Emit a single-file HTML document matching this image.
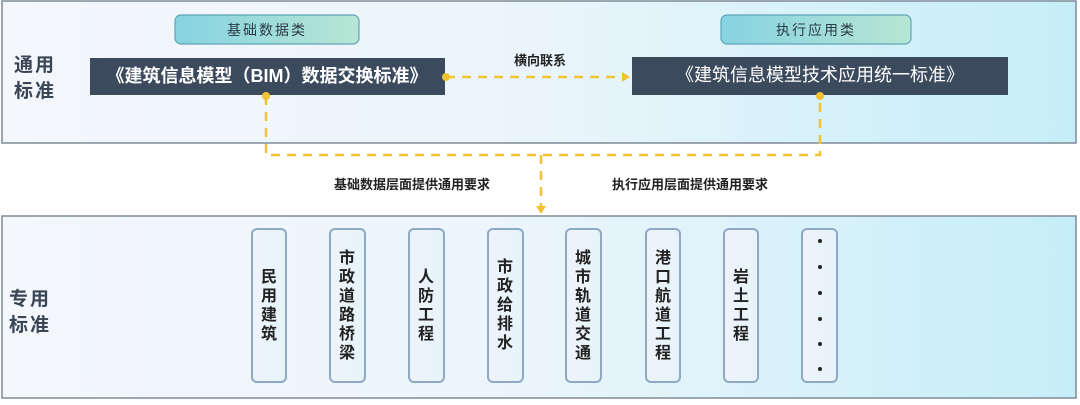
<!DOCTYPE html>
<html><head><meta charset="utf-8"><style>
html,body{margin:0;padding:0;background:#fff;}
body{width:1080px;height:400px;overflow:hidden;}
text{font-family:"Liberation Sans","Noto Sans CJK SC",sans-serif;}
</style></head><body>
<svg width="1080" height="400" viewBox="0 0 1080 400" xmlns="http://www.w3.org/2000/svg">
<defs>
<linearGradient id="pg" x1="0" y1="0" x2="1" y2="0">
<stop offset="0" stop-color="#f4f7fc"/><stop offset="0.5" stop-color="#eaf5fb"/><stop offset="1" stop-color="#c6eef8"/>
</linearGradient>
<linearGradient id="tg" x1="0" y1="0" x2="1" y2="0">
<stop offset="0" stop-color="#86d3e2"/><stop offset="1" stop-color="#b7e6d3"/>
</linearGradient>
<linearGradient id="bg" x1="0" y1="0" x2="1" y2="0">
<stop offset="0" stop-color="#eef3fa"/><stop offset="1" stop-color="#e6f3fa"/>
</linearGradient>
</defs>
<rect x="2" y="1" width="1074" height="142" fill="url(#pg)" stroke="#7d8b99" stroke-width="1.5"/>
<rect x="2" y="216" width="1074" height="182" fill="url(#pg)" stroke="#7d8b99" stroke-width="1.5"/>
<text x="14" y="71" font-size="19" font-weight="bold" fill="#3a4656" letter-spacing="2">通用</text>
<text x="14" y="97" font-size="19" font-weight="bold" fill="#3a4656" letter-spacing="2">标准</text>
<text x="9" y="305" font-size="19" font-weight="bold" fill="#3a4656" letter-spacing="2">专用</text>
<text x="9" y="331" font-size="19" font-weight="bold" fill="#3a4656" letter-spacing="2">标准</text>
<rect x="175" y="15" width="184" height="29" rx="6" fill="url(#tg)" stroke="#5fa3b8" stroke-width="1.2"/>
<text x="267" y="35" font-size="14" fill="#2e3a48" text-anchor="middle" letter-spacing="2">基础数据类</text>
<rect x="721" y="15" width="190" height="29" rx="6" fill="url(#tg)" stroke="#5fa3b8" stroke-width="1.2"/>
<text x="816" y="35" font-size="14" fill="#2e3a48" text-anchor="middle" letter-spacing="2">执行应用类</text>
<rect x="90" y="58" width="355" height="37" fill="#3c4a5e"/>
<text x="267" y="82" font-size="18" font-weight="bold" fill="#fff" text-anchor="middle">《建筑信息模型（BIM）数据交换标准》</text>
<rect x="632" y="57" width="376" height="38" fill="#3c4a5e"/>
<text x="820" y="81" font-size="18" fill="#fff" text-anchor="middle">《建筑信息模型技术应用统一标准》</text>
<g stroke="#f1c232" stroke-width="2.5" fill="none" stroke-dasharray="9,7">
<line x1="446" y1="77" x2="622" y2="77"/>
<polyline points="266,96 266,155 820,155 820,96"/>
<line x1="541" y1="155" x2="541" y2="206"/>
</g>
<circle cx="446" cy="77" r="4" fill="#f1c232"/>
<circle cx="266" cy="96" r="4" fill="#f1c232"/>
<circle cx="820" cy="96" r="4" fill="#f1c232"/>
<polygon points="622,72 630,77 622,82" fill="#f1c232"/>
<polygon points="536,206 546,206 541,214" fill="#f1c232"/>
<text x="540" y="65" font-size="13" font-weight="bold" fill="#222" text-anchor="middle">横向联系</text>
<text x="412" y="189" font-size="13" font-weight="bold" fill="#222" text-anchor="middle">基础数据层面提供通用要求</text>
<text x="690" y="189" font-size="13" font-weight="bold" fill="#222" text-anchor="middle">执行应用层面提供通用要求</text>
<g fill="url(#bg)" stroke="#8fa8c4" stroke-width="2">
<rect x="252" y="229" width="34" height="153" rx="5"/>
<rect x="330" y="229" width="35" height="153" rx="5"/>
<rect x="409" y="229" width="35" height="153" rx="5"/>
<rect x="488" y="229" width="35" height="153" rx="5"/>
<rect x="566" y="229" width="35" height="153" rx="5"/>
<rect x="646" y="229" width="34" height="153" rx="5"/>
<rect x="724" y="229" width="34" height="153" rx="5"/>
<rect x="802" y="229" width="35" height="153" rx="5"/>
</g>
<g font-size="16" font-weight="bold" fill="#222" text-anchor="middle">
<text x="269" y="282">民</text><text x="269" y="301">用</text><text x="269" y="320">建</text><text x="269" y="339">筑</text>
<text x="347" y="263">市</text><text x="347" y="282">政</text><text x="347" y="301">道</text><text x="347" y="320">路</text><text x="347" y="339">桥</text><text x="347" y="358">梁</text>
<text x="426" y="282">人</text><text x="426" y="301">防</text><text x="426" y="320">工</text><text x="426" y="339">程</text>
<text x="505" y="272">市</text><text x="505" y="291">政</text><text x="505" y="310">给</text><text x="505" y="329">排</text><text x="505" y="348">水</text>
<text x="583" y="263">城</text><text x="583" y="282">市</text><text x="583" y="301">轨</text><text x="583" y="320">道</text><text x="583" y="339">交</text><text x="583" y="358">通</text>
<text x="663" y="263">港</text><text x="663" y="282">口</text><text x="663" y="301">航</text><text x="663" y="320">道</text><text x="663" y="339">工</text><text x="663" y="358">程</text>
<text x="741" y="282">岩</text><text x="741" y="301">土</text><text x="741" y="320">工</text><text x="741" y="339">程</text>
</g>
<g fill="#222">
<circle cx="820" cy="241" r="2"/><circle cx="820" cy="267" r="2"/><circle cx="820" cy="293" r="2"/>
<circle cx="820" cy="319" r="2"/><circle cx="820" cy="344" r="2"/><circle cx="820" cy="369" r="2"/>
</g>
</svg>
</body></html>
